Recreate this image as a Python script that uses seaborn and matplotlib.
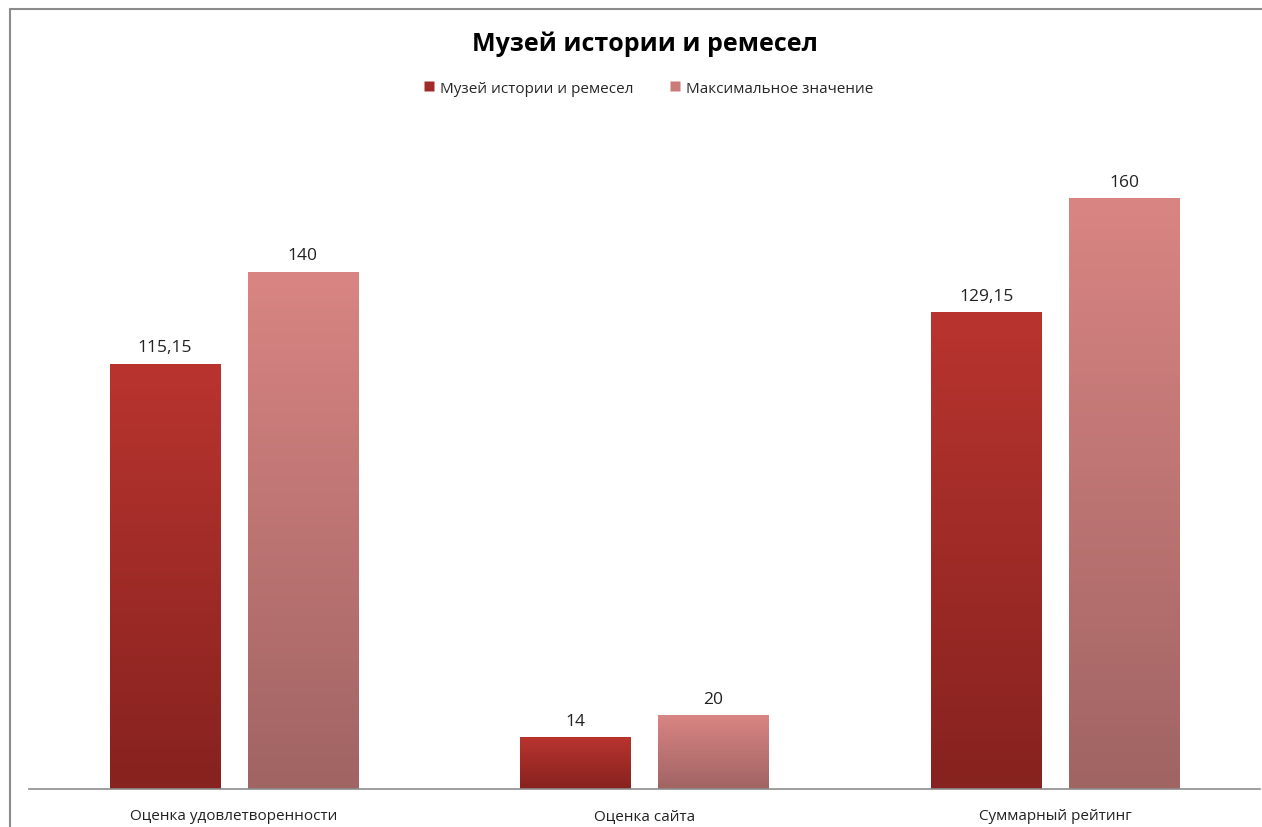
import numpy as np
import pandas as pd
import matplotlib
matplotlib.use('Agg')
import matplotlib.pyplot as plt
import seaborn as sns
from matplotlib.lines import Line2D
from matplotlib.colors import LinearSegmentedColormap

# data
categories = ['Оценка удовлетворенности', 'Оценка сайта', 'Суммарный рейтинг']
series = ['Музей истории и ремесел', 'Максимальное значение']
museum = [115.15, 14, 129.15]
maximum = [140, 20, 160]

df = pd.DataFrame({
    'category': categories * 2,
    'series': [series[0]] * 3 + [series[1]] * 3,
    'value': museum + maximum,
})

sns.set_style('white')
plt.rcParams['font.family'] = ['Open Sans', 'DejaVu Sans']

# top / bottom colours of the gradient fill
grad = {
    series[0]: ('#b9342f', '#86221f'),
    series[1]: ('#d98583', '#a06463'),
}
mid = {k: v[0] for k, v in grad.items()}
legend_col = {series[0]: '#a02b28', series[1]: '#c97b79'}

fig = plt.figure(figsize=(12.62, 8.28), dpi=100)
ax = fig.add_axes([28.5 / 1262, 1 - 790 / 828, 1232 / 1262, 665 / 828])

sns.barplot(data=df, x='category', y='value', hue='series', palette=mid,
            width=0.672, gap=0.2, ax=ax, legend=False, saturation=1)
ax.set_ylim(0, 180)
ax.set_xlim(-0.5, 2.5)

# gradient fill per bar, clipped to the bar rectangle
for cont, name in zip(ax.containers, series):
    top, bot = grad[name]
    cmap = LinearSegmentedColormap.from_list(name, [bot, top])
    for p in cont.patches:
        x0, y0 = p.get_x(), p.get_y()
        w, h = p.get_width(), p.get_height()
        img = ax.imshow(np.linspace(0, 1, 256).reshape(-1, 1), cmap=cmap,
                        origin='lower', aspect='auto',
                        extent=[x0, x0 + w, y0, y0 + h], zorder=2)
        img.set_clip_path(p)
        p.set_facecolor('none')
        p.set_edgecolor('none')
    labels = [f'{v:g}'.replace('.', ',') for v in cont.datavalues]
    ax.bar_label(cont, labels=labels, padding=6, fontsize=12.5, color='#222222')

ax.set_xlabel('')
ax.set_ylabel('')
ax.set_yticks([])
ax.tick_params(axis='x', length=0, pad=14, labelsize=11, colors='#222222')
for s in ['top', 'right', 'left']:
    ax.spines[s].set_visible(False)
ax.spines['bottom'].set_color('#8c8c8c')
ax.spines['bottom'].set_linewidth(1.2)

fig.text(0.511, 0.947, 'Музей истории и ремесел', ha='center', va='center',
         fontsize=18, fontweight='bold', color='black')

handles = [Line2D([], [], marker='s', linestyle='none', markersize=7,
                  markerfacecolor=legend_col[s], markeredgecolor='none') for s in series]
fig.legend(handles, series, loc='center', bbox_to_anchor=(0.513, 0.8925),
           ncol=2, frameon=False, fontsize=11, handletextpad=0.2,
           columnspacing=2.2, handlelength=1.0)

# chart frame (top and left edges visible)
fig.add_artist(Line2D([10 / 1262, 1.0], [1 - 10 / 828] * 2, color='#8c8c8c', lw=1.5))
fig.add_artist(Line2D([10 / 1262] * 2, [0.0, 1 - 10 / 828], color='#8c8c8c', lw=1.5))

fig.savefig('out.png', dpi=100)
